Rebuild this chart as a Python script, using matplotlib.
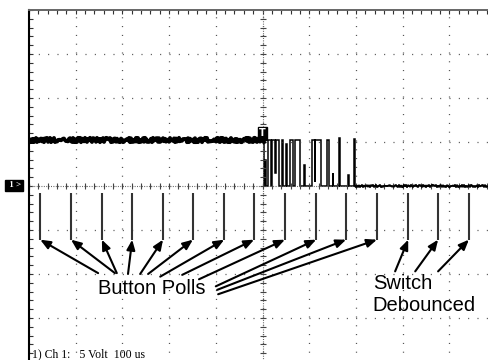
# scope capture of a bouncing push button and the firmware poll points
import numpy as np
import matplotlib
matplotlib.use('Agg')
from matplotlib import pyplot as plt
from matplotlib.ticker import MultipleLocator

plt.rcParams['lines.scale_dashes'] = False

# channel 1 trace, step form: edges in us, level in volts between edges
edges_us = [-500, 3, 6, 8, 12, 18, 20, 27, 28, 35, 42, 44, 51, 53, 59, 65, 70, 80, 88, 90,
            106, 112, 113, 125, 138, 142, 150, 152, 164, 166, 184, 185, 196, 198, 500]
levels_v = [5.2, 0, 3.0, 0, 5.2, 0, 5.2, 1.5, 5.2, 0, 5.2, 0, 4.8, 0, 5.2, 0, 5.2, 0, 2.4, 0,
            5.2, 0.5, 5.2, 0, 5.2, 0, 1.5, 0, 5.5, 0, 1.2, 0, 5.3, 0]

# button poll instants (us) and the extent of their markers (V)
polls_us = [-476, -410, -344, -279, -213, -149, -82, -18, 48, 115, 179, 245, 312, 376, 442]
poll_top_v = -0.8
poll_bot_v = -6.1

# where the callout arrows start
button_tail_us = [-352, -316, -312, -288, -262, -245, -219, -172, -136, -100, -97, -95]
button_tail_v = [-9.9, -9.9, -9.9, -10.0, -10.0, -10.0, -10.3, -10.1, -10.6, -11.4, -11.8, -12.3]
switch_tail_us = [284, 327, 376]
switch_tail_v = [-9.7, -9.7, -9.7]

fig = plt.figure(figsize=(4.88, 3.60), dpi=100)
ax = fig.add_axes([29/488, -2/360, 467/488, 352/360])
ax.set_xlim(-500, 500)
ax.set_ylim(-20, 20)

ax.xaxis.set_major_locator(MultipleLocator(100))
ax.xaxis.set_minor_locator(MultipleLocator(20))
ax.yaxis.set_major_locator(MultipleLocator(5))
ax.yaxis.set_minor_locator(MultipleLocator(1))
ax.tick_params(which='both', direction='in', length=3, width=0.8, color='#333',
               top=True, bottom=False, left=True, right=False,
               labelbottom=False, labelleft=False)
ax.xaxis.grid(True, which='major', color='#444', lw=0.9, linestyle=(0, (0.72, 5.616)))
ax.yaxis.grid(True, which='major', color='#444', lw=0.9, linestyle=(0, (0.72, 6.0)))
ax.spines['left'].set_color('black')
ax.spines['left'].set_linewidth(1.5)
ax.spines['top'].set_color('#666')
ax.spines['top'].set_linewidth(1.4)
ax.spines['right'].set_visible(False)
ax.spines['bottom'].set_visible(False)

# centre crosshair with its minor ticks
ax.axvline(0, color='#666', lw=0.8, linestyle=(0, (0.72, 1.0)))
ax.axhline(0, color='#666', lw=0.8, linestyle=(0, (0.72, 1.0)))
vmin = np.arange(-20, 21, 1)
tmin = np.arange(-500, 501, 20)
ax.plot(np.zeros(len(vmin)), vmin, ls='none', marker='_', ms=5, mew=0.8, color='#444')
ax.plot(tmin, np.zeros(len(tmin)), ls='none', marker='|', ms=4, mew=0.8, color='#444')

# trace: clean steps, then the noisy flat parts drawn heavier
ax.stairs(levels_v, edges_us, baseline=None, color='black', lw=1.1)
hi, = ax.plot(edges_us[:2], [levels_v[0], levels_v[0]], color='black', lw=2.8)
hi.set_sketch_params(2.2, 2, 2)
lo, = ax.plot(edges_us[-2:], [levels_v[-1], levels_v[-1]], color='black', lw=1.3)
lo.set_sketch_params(1.2, 2, 2)

# poll markers and callouts
ax.vlines(polls_us, poll_bot_v, poll_top_v, color='#333', lw=1.5)
aprops = dict(arrowstyle='-|>,head_length=0.6,head_width=0.25', color='black',
              lw=1.5, shrinkA=0, shrinkB=0, mutation_scale=10)
for i in range(len(button_tail_us)):
    ax.annotate('', xy=(polls_us[i], poll_bot_v), xytext=(button_tail_us[i], button_tail_v[i]),
                arrowprops=aprops)
for i in range(len(switch_tail_us)):
    ax.annotate('', xy=(polls_us[12+i], poll_bot_v), xytext=(switch_tail_us[i], switch_tail_v[i]),
                arrowprops=aprops)

ax.text(-352, -12.27, 'Button Polls', family='Liberation Sans', fontsize=14.5, va='baseline', ha='left')
ax.text(236, -11.7, 'Switch', family='Liberation Sans', fontsize=14.5, va='baseline', ha='left')
ax.text(236, -14.2, 'Debounced', family='Liberation Sans', fontsize=14.5, va='baseline', ha='left')

# trigger and channel markers
ax.text(0, 6.0, 'T', ha='center', va='center', color='white', fontsize=7, fontweight='bold',
        bbox=dict(boxstyle='square,pad=0.15', fc='black', ec='black'))
fig.text(7/488, 1-185.5/360, ' 1 >', ha='left', va='center', color='white', fontsize=6.5,
         fontweight='bold', family='Liberation Serif',
         bbox=dict(boxstyle='square,pad=0.2', fc='black', ec='black'))

fig.text(32/488, 1-357.5/360, '1) Ch 1:   5 Volt  100 us', family='Liberation Serif',
         fontsize=8.5, va='baseline', ha='left')

fig.savefig('out.png', dpi=100)
